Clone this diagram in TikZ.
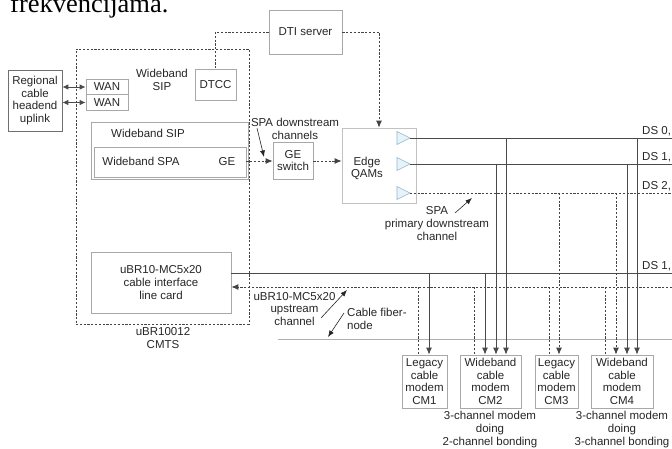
\documentclass[tikz,border=0pt]{standalone}
\usepackage{fontspec}
\setmainfont{Liberation Sans}
\newfontfamily\topserif{Liberation Serif}
\usetikzlibrary{arrows.meta}
\definecolor{boxgray}{HTML}{A8A8A8}
\definecolor{darkbox}{HTML}{707070}
\definecolor{linegray}{HTML}{4A4A4A}
\definecolor{dashgray}{HTML}{444444}
\definecolor{thingray}{HTML}{B0B0B0}
\definecolor{trifill}{HTML}{E8F3F9}
\definecolor{triline}{HTML}{8DB6CF}
\begin{document}
\begin{tikzpicture}[x=1pt,y=-1pt,
  every node/.style={font=\fontsize{11.5}{12.8}\selectfont, inner sep=0pt, align=center, text=black!85},
  box/.style={draw=boxgray, line width=0.7pt},
  sline/.style={draw=linegray, line width=0.85pt},
  dline/.style={draw=dashgray, line width=0.85pt, dash pattern=on 2.2pt off 1.6pt},
  thin/.style={draw=thingray, line width=0.6pt},
  tip/.style={-{Latex[length=7pt,width=6pt]}},
  dtip/.style={{Latex[length=6pt,width=5.5pt]}-{Latex[length=6pt,width=5.5pt]}},
  ptr/.style={draw=black!85, line width=0.6pt, -{Latex[length=6.5pt,width=5pt]}},
  tri/.style={draw=triline, fill=trifill, line width=0.6pt}
]
\useasboundingbox (0,0) rectangle (672,449);

% clipped caption text at the top
\begin{scope}
\clip (0,0) rectangle (672,449);
\node[anchor=base west, font=\topserif\fontsize{26.5}{28}\selectfont, text=black] (toptext) at (10,13) {frekvencijama.};
\end{scope}

% ---- boxes ----
\node[box, minimum width=73pt, minimum height=44pt] (dti) at (305.5,32) {DTI server};
\node[dline, draw, minimum width=173pt, minimum height=275pt] (cmts) at (162.5,186.5) {};
\node[anchor=north] (cmtslbl) at (163,327) {uBR10012\\CMTS};

\node[draw=darkbox, line width=0.7pt, minimum width=54pt, minimum height=61pt] (reg) at (35,100.5) {Regional\\cable\\headend\\uplink};
\node[box, minimum width=42pt, minimum height=15.5pt] (wan1) at (107,87) {WAN};
\node[box, minimum width=42pt, minimum height=15.5pt] (wan2) at (107,102.5) {WAN};
\node (wsiplbl) at (162,79.5) {Wideband\\SIP};
\node[box, minimum width=41pt, minimum height=31pt] (dtcc) at (215.5,84.5) {DTCC};

\node[box, minimum width=157pt, minimum height=57pt] (sip) at (169.5,150.5) {};
\node (siplbl) at (148,133) {Wideband SIP};
\node[box, minimum width=152pt, minimum height=30pt] (spa) at (170,162) {};
\node (spalbl) at (141,161.5) {Wideband SPA};
\node (gelbl) at (227,161.5) {GE};

\node[box, minimum width=40pt, minimum height=37pt] (ges) at (293,160.5) {GE\\switch};
\node (spadslbl) at (295,128.5) {SPA downstream\\channels};

\node[draw=boxgray!70, line width=0.7pt, minimum width=74pt, minimum height=75pt] (eq) at (379,165.5) {};
\node (eqlbl) at (367,168.5) {Edge\\QAMs};

\node[box, minimum width=140pt, minimum height=61pt] (lc) at (161,282.5) {uBR10-MC5x20\\cable interface\\line card};

% cable modems
\node[box, minimum width=45pt, minimum height=53pt, font=\fontsize{11.5}{12.6}\selectfont] (cm1) at (424.5,381.5) {Legacy\\cable\\modem\\CM1};
\node[box, minimum width=61pt, minimum height=53pt, font=\fontsize{11.5}{12.6}\selectfont] (cm2) at (490.5,381.5) {Wideband\\cable\\modem\\CM2};
\node[box, minimum width=43pt, minimum height=53pt, font=\fontsize{11.5}{12.6}\selectfont] (cm3) at (556.5,381.5) {Legacy\\cable\\modem\\CM3};
\node[box, minimum width=62pt, minimum height=53pt, font=\fontsize{11.5}{12.6}\selectfont] (cm4) at (622,381.5) {Wideband\\cable\\modem\\CM4};
\node[anchor=north] (cm2lbl) at (490,411) {3-channel modem\\doing\\2-channel bonding};
\node[anchor=north] (cm4lbl) at (622,411) {3-channel modem\\doing\\3-channel bonding};

% ---- triangles (QAM outputs) ----
\coordinate (t0) at (410,138);
\coordinate (t1) at (410,164);
\coordinate (t2) at (410,193);
\draw[tri] (397,131.5) -- (t0) -- (397,144.5) -- cycle;
\draw[tri] (397,157.5) -- (t1) -- (397,170.5) -- cycle;
\draw[tri] (397,186.5) -- (t2) -- (397,199.5) -- cycle;

% right-edge coordinates
\coordinate (r0) at (672,138);
\coordinate (r1) at (672,164);
\coordinate (r2) at (672,193);
\coordinate (r3) at (672,273);
\coordinate (r4) at (672,287);
\coordinate (r5) at (672,339);
\coordinate (f0) at (278,339);

% ---- connectors top ----
\draw[dline] (dti.west) -| (dtcc.north);
\draw[dline, tip] (dti.east) -| (eq.north);
\draw[sline, dtip] (reg.east |- wan1.west) -- (wan1.west);
\draw[sline, dtip] (reg.east |- wan2.west) -- (wan2.west);
\draw[dline, tip] (spa.east |- 0,161) -- (ges.west |- 0,161);
\draw[dline, tip] (ges.east |- 0,161) -- (eq.west |- 0,161);
\draw[ptr] (257,128) -- (264,157);

% ---- downstream lines ----
\draw[sline] (t0) -- (r0);
\draw[sline] (t1) -- (r1);
\draw[dline] (t2) -- (r2);
\draw[sline] (lc.east |- 0,273) -- (r3);
\draw[dline, tip] (r4) -- (lc.east |- 0,287);
\draw[thin] (f0) -- (r5);

\node[anchor=base west] (ds0) at (642,134.5) {DS 0,};
\node[anchor=base west] (ds1) at (642,160.5) {DS 1,};
\node[anchor=base west] (ds2) at (642,189.5) {DS 2,};
\node[anchor=base west] (ds1b) at (642,269.5) {DS 1,};

% ---- verticals to modems ----
\draw[sline, tip] (506,138) -- (506,138 |- cm2.north);
\draw[sline, tip] (496,164) -- (496,164 |- cm2.north);
\draw[sline, tip] (485,273) -- (485,273 |- cm2.north);
\draw[dline] (474,287) -- (474,287 |- cm2.north);
\draw[sline, tip] (429,273) -- (429,273 |- cm1.north);
\draw[dline] (418,287) -- (418,287 |- cm1.north);
\draw[dline, tip] (559,193) -- (559,193 |- cm3.north);
\draw[dline] (549,287) -- (549,287 |- cm3.north);
\draw[sline, tip] (637,138) -- (637,138 |- cm4.north);
\draw[sline, tip] (627,164) -- (627,164 |- cm4.north);
\draw[dline, tip] (616,193) -- (616,193 |- cm4.north);
\draw[dline] (605,287) -- (605,287 |- cm4.north);

% ---- annotation labels ----
\node (spaprim) at (437,223.5) {SPA\\primary downstream\\channel};
\draw[ptr] (455,213) -- (472,198);
\node (uslbl) at (294.5,309) {uBR10-MC5x20\\upstream\\channel};
\draw[ptr] (321,318) -- (347,290);
\node[align=left, anchor=west] (fnlbl) at (347,318.5) {Cable fiber-\\node};
\draw[ptr] (344,313) -- (328,337);
\end{tikzpicture}
\end{document}
